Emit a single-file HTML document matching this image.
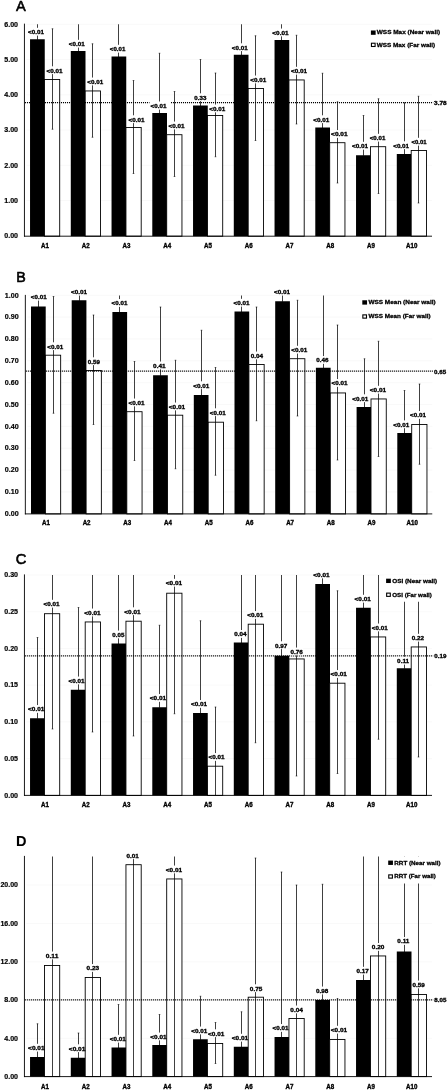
<!DOCTYPE html>
<html><head><meta charset="utf-8"><title>Figure</title>
<style>
html,body{margin:0;padding:0;background:#fff;}
body{width:448px;height:1090px;overflow:hidden;}
svg{display:block;will-change:transform;}
text{font-family:"Liberation Sans",sans-serif;}
</style></head><body>
<svg width="448" height="1090" viewBox="0 0 448 1090">
<rect x="0" y="0" width="448" height="1090" fill="#fff"/>
<g>
<line x1="26.45" y1="24.25" x2="432" y2="24.25" stroke="#f7f7f7" stroke-width="0.7"/>
<line x1="26.45" y1="59.5" x2="432" y2="59.5" stroke="#f7f7f7" stroke-width="0.7"/>
<line x1="26.45" y1="94.75" x2="432" y2="94.75" stroke="#f7f7f7" stroke-width="0.7"/>
<line x1="26.45" y1="130" x2="432" y2="130" stroke="#f7f7f7" stroke-width="0.7"/>
<line x1="26.45" y1="165.25" x2="432" y2="165.25" stroke="#f7f7f7" stroke-width="0.7"/>
<line x1="26.45" y1="200.5" x2="432" y2="200.5" stroke="#f7f7f7" stroke-width="0.7"/>
<rect x="30.04" y="39.25" width="14.71" height="196.95" fill="#000"/>
<rect x="44.45" y="79.45" width="15.25" height="156.75" fill="#fff"/>
<rect x="70.79" y="51" width="14.71" height="185.2" fill="#000"/>
<rect x="85.2" y="90.95" width="15.25" height="145.25" fill="#fff"/>
<rect x="111.54" y="56.5" width="14.71" height="179.7" fill="#000"/>
<rect x="125.95" y="127.45" width="15.25" height="108.75" fill="#fff"/>
<rect x="152.29" y="113" width="14.71" height="123.2" fill="#000"/>
<rect x="166.7" y="134.7" width="15.25" height="101.5" fill="#fff"/>
<rect x="193.04" y="105.5" width="14.71" height="130.7" fill="#000"/>
<rect x="207.45" y="115.45" width="15.25" height="120.75" fill="#fff"/>
<rect x="233.79" y="54.75" width="14.71" height="181.45" fill="#000"/>
<rect x="248.2" y="88.45" width="15.25" height="147.75" fill="#fff"/>
<rect x="274.54" y="40" width="14.71" height="196.2" fill="#000"/>
<rect x="288.95" y="79.95" width="15.25" height="156.25" fill="#fff"/>
<rect x="315.29" y="127.5" width="14.71" height="108.7" fill="#000"/>
<rect x="329.7" y="142.7" width="15.25" height="93.5" fill="#fff"/>
<rect x="356.04" y="155.25" width="14.71" height="80.95" fill="#000"/>
<rect x="370.45" y="146.7" width="15.25" height="89.5" fill="#fff"/>
<rect x="396.79" y="154" width="14.71" height="82.2" fill="#000"/>
<rect x="411.2" y="150.45" width="15.25" height="85.75" fill="#fff"/>
<line x1="37.5" y1="24.25" x2="37.5" y2="39.75" stroke="#000" stroke-width="0.75"/>
<line x1="52.5" y1="28.75" x2="52.5" y2="129.25" stroke="#000" stroke-width="0.75"/>
<line x1="51.7" y1="28.75" x2="53.3" y2="28.75" stroke="#000" stroke-width="0.6"/>
<line x1="51.7" y1="129.25" x2="53.3" y2="129.25" stroke="#000" stroke-width="0.6"/>
<line x1="78.5" y1="24.25" x2="78.5" y2="51.5" stroke="#000" stroke-width="0.75"/>
<line x1="92.5" y1="43.75" x2="92.5" y2="137.25" stroke="#000" stroke-width="0.75"/>
<line x1="91.7" y1="43.75" x2="93.3" y2="43.75" stroke="#000" stroke-width="0.6"/>
<line x1="91.7" y1="137.25" x2="93.3" y2="137.25" stroke="#000" stroke-width="0.6"/>
<line x1="118.5" y1="24.25" x2="118.5" y2="57" stroke="#000" stroke-width="0.75"/>
<line x1="133.5" y1="80.5" x2="133.5" y2="173.5" stroke="#000" stroke-width="0.75"/>
<line x1="132.7" y1="80.5" x2="134.3" y2="80.5" stroke="#000" stroke-width="0.6"/>
<line x1="132.7" y1="173.5" x2="134.3" y2="173.5" stroke="#000" stroke-width="0.6"/>
<line x1="159.5" y1="53.25" x2="159.5" y2="113.5" stroke="#000" stroke-width="0.75"/>
<line x1="158.7" y1="53.25" x2="160.3" y2="53.25" stroke="#000" stroke-width="0.6"/>
<line x1="174.5" y1="91.5" x2="174.5" y2="176.5" stroke="#000" stroke-width="0.75"/>
<line x1="173.7" y1="91.5" x2="175.3" y2="91.5" stroke="#000" stroke-width="0.6"/>
<line x1="173.7" y1="176.5" x2="175.3" y2="176.5" stroke="#000" stroke-width="0.6"/>
<line x1="200.5" y1="59.5" x2="200.5" y2="106" stroke="#000" stroke-width="0.75"/>
<line x1="199.7" y1="59.5" x2="201.3" y2="59.5" stroke="#000" stroke-width="0.6"/>
<line x1="215.5" y1="73" x2="215.5" y2="156.75" stroke="#000" stroke-width="0.75"/>
<line x1="214.7" y1="73" x2="216.3" y2="73" stroke="#000" stroke-width="0.6"/>
<line x1="214.7" y1="156.75" x2="216.3" y2="156.75" stroke="#000" stroke-width="0.6"/>
<line x1="241.5" y1="24.25" x2="241.5" y2="55.25" stroke="#000" stroke-width="0.75"/>
<line x1="255.5" y1="35.75" x2="255.5" y2="140.5" stroke="#000" stroke-width="0.75"/>
<line x1="254.7" y1="35.75" x2="256.3" y2="35.75" stroke="#000" stroke-width="0.6"/>
<line x1="254.7" y1="140.5" x2="256.3" y2="140.5" stroke="#000" stroke-width="0.6"/>
<line x1="281.5" y1="24.25" x2="281.5" y2="40.5" stroke="#000" stroke-width="0.75"/>
<line x1="296.5" y1="35.25" x2="296.5" y2="124" stroke="#000" stroke-width="0.75"/>
<line x1="295.7" y1="35.25" x2="297.3" y2="35.25" stroke="#000" stroke-width="0.6"/>
<line x1="295.7" y1="124" x2="297.3" y2="124" stroke="#000" stroke-width="0.6"/>
<line x1="322.5" y1="73.25" x2="322.5" y2="128" stroke="#000" stroke-width="0.75"/>
<line x1="321.7" y1="73.25" x2="323.3" y2="73.25" stroke="#000" stroke-width="0.6"/>
<line x1="337.5" y1="101.75" x2="337.5" y2="183" stroke="#000" stroke-width="0.75"/>
<line x1="336.7" y1="101.75" x2="338.3" y2="101.75" stroke="#000" stroke-width="0.6"/>
<line x1="336.7" y1="183" x2="338.3" y2="183" stroke="#000" stroke-width="0.6"/>
<line x1="363.5" y1="115.5" x2="363.5" y2="155.75" stroke="#000" stroke-width="0.75"/>
<line x1="362.7" y1="115.5" x2="364.3" y2="115.5" stroke="#000" stroke-width="0.6"/>
<line x1="378.5" y1="98.75" x2="378.5" y2="193.5" stroke="#000" stroke-width="0.75"/>
<line x1="377.7" y1="98.75" x2="379.3" y2="98.75" stroke="#000" stroke-width="0.6"/>
<line x1="377.7" y1="193.5" x2="379.3" y2="193.5" stroke="#000" stroke-width="0.6"/>
<line x1="404.5" y1="102.75" x2="404.5" y2="154.5" stroke="#000" stroke-width="0.75"/>
<line x1="403.7" y1="102.75" x2="405.3" y2="102.75" stroke="#000" stroke-width="0.6"/>
<line x1="418.5" y1="96.25" x2="418.5" y2="203" stroke="#000" stroke-width="0.75"/>
<line x1="417.7" y1="96.25" x2="419.3" y2="96.25" stroke="#000" stroke-width="0.6"/>
<line x1="417.7" y1="203" x2="419.3" y2="203" stroke="#000" stroke-width="0.6"/>
<line x1="24.92" y1="102.57" x2="433.2" y2="102.57" stroke="#000" stroke-width="1.12" stroke-dasharray="1.08 0.92"/>
<rect x="149.5" y="101.6" width="21.2" height="3" fill="#fff"/>
<line x1="24.45" y1="23.65" x2="24.45" y2="236.65" stroke="#000" stroke-width="0.9"/>
<line x1="24" y1="236.2" x2="432" y2="236.2" stroke="#000" stroke-width="0.9"/>
<rect x="27.65" y="27.8" width="16.6" height="7.8" fill="#fff"/>
<rect x="68.4" y="39.8" width="16.6" height="7.8" fill="#fff"/>
<rect x="109.4" y="44.8" width="16.3" height="7.8" fill="#fff"/>
<rect x="150.15" y="101.8" width="16.75" height="7.8" fill="#fff"/>
<rect x="193.9" y="93.3" width="12.85" height="7.8" fill="#fff"/>
<rect x="231.4" y="43.3" width="16.6" height="7.8" fill="#fff"/>
<rect x="271.9" y="28.55" width="17.1" height="7.8" fill="#fff"/>
<rect x="312.9" y="115.3" width="16.85" height="7.8" fill="#fff"/>
<rect x="351.6" y="141.8" width="16.9" height="7.8" fill="#fff"/>
<rect x="392.8" y="141.3" width="16.6" height="7.8" fill="#fff"/>
<rect x="46.15" y="66.3" width="16.85" height="7.8" fill="#fff"/>
<rect x="86.9" y="77.55" width="16.6" height="7.8" fill="#fff"/>
<rect x="128.15" y="115.3" width="16.85" height="7.8" fill="#fff"/>
<rect x="168.15" y="121.55" width="16.85" height="7.8" fill="#fff"/>
<rect x="208.8" y="104.55" width="16.8" height="7.8" fill="#fff"/>
<rect x="249.9" y="75.55" width="16.85" height="7.8" fill="#fff"/>
<rect x="290.65" y="66.8" width="16.85" height="7.8" fill="#fff"/>
<rect x="330.65" y="130.05" width="17.35" height="7.8" fill="#fff"/>
<rect x="369.3" y="133.8" width="16.4" height="7.8" fill="#fff"/>
<rect x="411.15" y="137.8" width="15.85" height="7.8" fill="#fff"/>
<rect x="44.45" y="79.45" width="15.25" height="156.75" fill="none" stroke="#000" stroke-width="0.9"/>
<rect x="85.2" y="90.95" width="15.25" height="145.25" fill="none" stroke="#000" stroke-width="0.9"/>
<rect x="125.95" y="127.45" width="15.25" height="108.75" fill="none" stroke="#000" stroke-width="0.9"/>
<rect x="166.7" y="134.7" width="15.25" height="101.5" fill="none" stroke="#000" stroke-width="0.9"/>
<rect x="207.45" y="115.45" width="15.25" height="120.75" fill="none" stroke="#000" stroke-width="0.9"/>
<rect x="248.2" y="88.45" width="15.25" height="147.75" fill="none" stroke="#000" stroke-width="0.9"/>
<rect x="288.95" y="79.95" width="15.25" height="156.25" fill="none" stroke="#000" stroke-width="0.9"/>
<rect x="329.7" y="142.7" width="15.25" height="93.5" fill="none" stroke="#000" stroke-width="0.9"/>
<rect x="370.45" y="146.7" width="15.25" height="89.5" fill="none" stroke="#000" stroke-width="0.9"/>
<rect x="411.2" y="150.45" width="15.25" height="85.75" fill="none" stroke="#000" stroke-width="0.9"/>
<text x="28.1" y="34.24" font-size="6.25" font-weight="700" fill="#000" stroke="#000" stroke-width="0.35" textLength="15.8" lengthAdjust="spacingAndGlyphs">&lt;0.01</text>
<text x="68.85" y="46.24" font-size="6.25" font-weight="700" fill="#000" stroke="#000" stroke-width="0.35" textLength="15.8" lengthAdjust="spacingAndGlyphs">&lt;0.01</text>
<text x="109.85" y="51.24" font-size="6.25" font-weight="700" fill="#000" stroke="#000" stroke-width="0.35" textLength="15.5" lengthAdjust="spacingAndGlyphs">&lt;0.01</text>
<text x="150.6" y="108.24" font-size="6.25" font-weight="700" fill="#000" stroke="#000" stroke-width="0.35" textLength="15.95" lengthAdjust="spacingAndGlyphs">&lt;0.01</text>
<text x="194.35" y="99.74" font-size="6.25" font-weight="700" fill="#000" stroke="#000" stroke-width="0.35" textLength="12.05" lengthAdjust="spacingAndGlyphs">0.33</text>
<text x="231.85" y="49.74" font-size="6.25" font-weight="700" fill="#000" stroke="#000" stroke-width="0.35" textLength="15.8" lengthAdjust="spacingAndGlyphs">&lt;0.01</text>
<text x="272.35" y="34.99" font-size="6.25" font-weight="700" fill="#000" stroke="#000" stroke-width="0.35" textLength="16.3" lengthAdjust="spacingAndGlyphs">&lt;0.01</text>
<text x="313.35" y="121.74" font-size="6.25" font-weight="700" fill="#000" stroke="#000" stroke-width="0.35" textLength="16.05" lengthAdjust="spacingAndGlyphs">&lt;0.01</text>
<text x="352.05" y="148.24" font-size="6.25" font-weight="700" fill="#000" stroke="#000" stroke-width="0.35" textLength="16.1" lengthAdjust="spacingAndGlyphs">&lt;0.01</text>
<text x="393.25" y="147.74" font-size="6.25" font-weight="700" fill="#000" stroke="#000" stroke-width="0.35" textLength="15.8" lengthAdjust="spacingAndGlyphs">&lt;0.01</text>
<text x="46.6" y="72.74" font-size="6.25" font-weight="700" fill="#000" stroke="#000" stroke-width="0.35" textLength="16.05" lengthAdjust="spacingAndGlyphs">&lt;0.01</text>
<text x="87.35" y="83.99" font-size="6.25" font-weight="700" fill="#000" stroke="#000" stroke-width="0.35" textLength="15.8" lengthAdjust="spacingAndGlyphs">&lt;0.01</text>
<text x="128.6" y="121.74" font-size="6.25" font-weight="700" fill="#000" stroke="#000" stroke-width="0.35" textLength="16.05" lengthAdjust="spacingAndGlyphs">&lt;0.01</text>
<text x="168.6" y="127.99" font-size="6.25" font-weight="700" fill="#000" stroke="#000" stroke-width="0.35" textLength="16.05" lengthAdjust="spacingAndGlyphs">&lt;0.01</text>
<text x="209.25" y="110.99" font-size="6.25" font-weight="700" fill="#000" stroke="#000" stroke-width="0.35" textLength="16" lengthAdjust="spacingAndGlyphs">&lt;0.01</text>
<text x="250.35" y="81.99" font-size="6.25" font-weight="700" fill="#000" stroke="#000" stroke-width="0.35" textLength="16.05" lengthAdjust="spacingAndGlyphs">&lt;0.01</text>
<text x="291.1" y="73.24" font-size="6.25" font-weight="700" fill="#000" stroke="#000" stroke-width="0.35" textLength="16.05" lengthAdjust="spacingAndGlyphs">&lt;0.01</text>
<text x="331.1" y="136.49" font-size="6.25" font-weight="700" fill="#000" stroke="#000" stroke-width="0.35" textLength="16.55" lengthAdjust="spacingAndGlyphs">&lt;0.01</text>
<text x="369.75" y="140.24" font-size="6.25" font-weight="700" fill="#000" stroke="#000" stroke-width="0.35" textLength="15.6" lengthAdjust="spacingAndGlyphs">&lt;0.01</text>
<text x="411.6" y="144.24" font-size="6.25" font-weight="700" fill="#000" stroke="#000" stroke-width="0.35" textLength="15.05" lengthAdjust="spacingAndGlyphs">&lt;0.01</text>
<text x="434.1" y="104.99" font-size="6.25" font-weight="700" fill="#000" stroke="#000" stroke-width="0.35" textLength="12.55" lengthAdjust="spacingAndGlyphs">3.78</text>
<text x="4.25" y="26.54" font-size="6.4" font-weight="700" fill="#000" stroke="#000" stroke-width="0.16" textLength="13.8" lengthAdjust="spacingAndGlyphs">6.00</text>
<text x="4.25" y="61.79" font-size="6.4" font-weight="700" fill="#000" stroke="#000" stroke-width="0.16" textLength="13.8" lengthAdjust="spacingAndGlyphs">5.00</text>
<text x="4.25" y="97.04" font-size="6.4" font-weight="700" fill="#000" stroke="#000" stroke-width="0.16" textLength="13.8" lengthAdjust="spacingAndGlyphs">4.00</text>
<text x="4.25" y="132.29" font-size="6.4" font-weight="700" fill="#000" stroke="#000" stroke-width="0.16" textLength="13.8" lengthAdjust="spacingAndGlyphs">3.00</text>
<text x="4.25" y="167.54" font-size="6.4" font-weight="700" fill="#000" stroke="#000" stroke-width="0.16" textLength="13.8" lengthAdjust="spacingAndGlyphs">2.00</text>
<text x="4.25" y="202.79" font-size="6.4" font-weight="700" fill="#000" stroke="#000" stroke-width="0.16" textLength="13.8" lengthAdjust="spacingAndGlyphs">1.00</text>
<text x="4.25" y="238.04" font-size="6.4" font-weight="700" fill="#000" stroke="#000" stroke-width="0.16" textLength="13.8" lengthAdjust="spacingAndGlyphs">0.00</text>
<text x="40.99" y="247.93" font-size="6.5" font-weight="700" fill="#000" stroke="#000" stroke-width="0.35" textLength="7.9" lengthAdjust="spacingAndGlyphs">A1</text>
<text x="81.74" y="247.93" font-size="6.5" font-weight="700" fill="#000" stroke="#000" stroke-width="0.35" textLength="7.9" lengthAdjust="spacingAndGlyphs">A2</text>
<text x="122.49" y="247.93" font-size="6.5" font-weight="700" fill="#000" stroke="#000" stroke-width="0.35" textLength="7.9" lengthAdjust="spacingAndGlyphs">A3</text>
<text x="163.24" y="247.93" font-size="6.5" font-weight="700" fill="#000" stroke="#000" stroke-width="0.35" textLength="7.9" lengthAdjust="spacingAndGlyphs">A4</text>
<text x="203.99" y="247.93" font-size="6.5" font-weight="700" fill="#000" stroke="#000" stroke-width="0.35" textLength="7.9" lengthAdjust="spacingAndGlyphs">A5</text>
<text x="244.74" y="247.93" font-size="6.5" font-weight="700" fill="#000" stroke="#000" stroke-width="0.35" textLength="7.9" lengthAdjust="spacingAndGlyphs">A6</text>
<text x="285.49" y="247.93" font-size="6.5" font-weight="700" fill="#000" stroke="#000" stroke-width="0.35" textLength="7.9" lengthAdjust="spacingAndGlyphs">A7</text>
<text x="326.24" y="247.93" font-size="6.5" font-weight="700" fill="#000" stroke="#000" stroke-width="0.35" textLength="7.9" lengthAdjust="spacingAndGlyphs">A8</text>
<text x="366.99" y="247.93" font-size="6.5" font-weight="700" fill="#000" stroke="#000" stroke-width="0.35" textLength="7.9" lengthAdjust="spacingAndGlyphs">A9</text>
<text x="406.04" y="247.93" font-size="6.5" font-weight="700" fill="#000" stroke="#000" stroke-width="0.35" textLength="11.3" lengthAdjust="spacingAndGlyphs">A10</text>
<rect x="368.9" y="26.4" width="73.1" height="25.45" fill="#fff"/>
<rect x="370.9" y="30.47" width="4.75" height="4.35" fill="#000"/>
<rect x="371.45" y="43.23" width="3.65" height="3.25" fill="#fff" stroke="#000" stroke-width="1.1"/>
<text x="376.75" y="34.48" font-size="5.8" font-weight="700" fill="#000" stroke="#000" stroke-width="0.28" textLength="63.4" lengthAdjust="spacingAndGlyphs">WSS Max (Near wall)</text>
<text x="376.75" y="46.68" font-size="5.8" font-weight="700" fill="#000" stroke="#000" stroke-width="0.28" textLength="58.4" lengthAdjust="spacingAndGlyphs">WSS Max (Far wall)</text>
<text x="20.95" y="11.4" font-size="14.66" font-weight="400" fill="#000" stroke="#000" stroke-width="0.6" stroke-linejoin="round" text-anchor="middle">A</text>
</g>
<g>
<line x1="27.35" y1="295.25" x2="432.25" y2="295.25" stroke="#f7f7f7" stroke-width="0.7"/>
<line x1="27.35" y1="317.1" x2="432.25" y2="317.1" stroke="#f7f7f7" stroke-width="0.7"/>
<line x1="27.35" y1="338.95" x2="432.25" y2="338.95" stroke="#f7f7f7" stroke-width="0.7"/>
<line x1="27.35" y1="360.8" x2="432.25" y2="360.8" stroke="#f7f7f7" stroke-width="0.7"/>
<line x1="27.35" y1="382.65" x2="432.25" y2="382.65" stroke="#f7f7f7" stroke-width="0.7"/>
<line x1="27.35" y1="404.5" x2="432.25" y2="404.5" stroke="#f7f7f7" stroke-width="0.7"/>
<line x1="27.35" y1="426.35" x2="432.25" y2="426.35" stroke="#f7f7f7" stroke-width="0.7"/>
<line x1="27.35" y1="448.2" x2="432.25" y2="448.2" stroke="#f7f7f7" stroke-width="0.7"/>
<line x1="27.35" y1="470.05" x2="432.25" y2="470.05" stroke="#f7f7f7" stroke-width="0.7"/>
<line x1="27.35" y1="491.9" x2="432.25" y2="491.9" stroke="#f7f7f7" stroke-width="0.7"/>
<rect x="31" y="306.5" width="14.71" height="207.4" fill="#000"/>
<rect x="45.41" y="355.2" width="15.25" height="158.7" fill="#fff"/>
<rect x="71.7" y="300.25" width="14.71" height="213.65" fill="#000"/>
<rect x="86.11" y="370.45" width="15.25" height="143.45" fill="#fff"/>
<rect x="112.4" y="312" width="14.71" height="201.9" fill="#000"/>
<rect x="126.81" y="411.7" width="15.25" height="102.2" fill="#fff"/>
<rect x="153.1" y="375.25" width="14.71" height="138.65" fill="#000"/>
<rect x="167.51" y="415.2" width="15.25" height="98.7" fill="#fff"/>
<rect x="193.8" y="395" width="14.71" height="118.9" fill="#000"/>
<rect x="208.21" y="422.2" width="15.25" height="91.7" fill="#fff"/>
<rect x="234.5" y="311.5" width="14.71" height="202.4" fill="#000"/>
<rect x="248.91" y="364.45" width="15.25" height="149.45" fill="#fff"/>
<rect x="275.2" y="301.25" width="14.71" height="212.65" fill="#000"/>
<rect x="289.61" y="358.7" width="15.25" height="155.2" fill="#fff"/>
<rect x="315.9" y="367.75" width="14.71" height="146.15" fill="#000"/>
<rect x="330.31" y="392.95" width="15.25" height="120.95" fill="#fff"/>
<rect x="356.6" y="407" width="14.71" height="106.9" fill="#000"/>
<rect x="371.01" y="398.95" width="15.25" height="114.95" fill="#fff"/>
<rect x="397.3" y="433" width="14.71" height="80.9" fill="#000"/>
<rect x="411.71" y="424.45" width="15.25" height="89.45" fill="#fff"/>
<line x1="38.5" y1="295.5" x2="38.5" y2="307" stroke="#000" stroke-width="0.75"/>
<line x1="53.5" y1="296.5" x2="53.5" y2="413.25" stroke="#000" stroke-width="0.75"/>
<line x1="52.7" y1="296.5" x2="54.3" y2="296.5" stroke="#000" stroke-width="0.6"/>
<line x1="52.7" y1="413.25" x2="54.3" y2="413.25" stroke="#000" stroke-width="0.6"/>
<line x1="79.5" y1="295.5" x2="79.5" y2="300.75" stroke="#000" stroke-width="0.75"/>
<line x1="93.5" y1="315" x2="93.5" y2="424.5" stroke="#000" stroke-width="0.75"/>
<line x1="92.7" y1="315" x2="94.3" y2="315" stroke="#000" stroke-width="0.6"/>
<line x1="92.7" y1="424.5" x2="94.3" y2="424.5" stroke="#000" stroke-width="0.6"/>
<line x1="119.5" y1="295.5" x2="119.5" y2="312.5" stroke="#000" stroke-width="0.75"/>
<line x1="134.5" y1="361.5" x2="134.5" y2="460.5" stroke="#000" stroke-width="0.75"/>
<line x1="133.7" y1="361.5" x2="135.3" y2="361.5" stroke="#000" stroke-width="0.6"/>
<line x1="133.7" y1="460.5" x2="135.3" y2="460.5" stroke="#000" stroke-width="0.6"/>
<line x1="160.5" y1="307" x2="160.5" y2="375.75" stroke="#000" stroke-width="0.75"/>
<line x1="159.7" y1="307" x2="161.3" y2="307" stroke="#000" stroke-width="0.6"/>
<line x1="175.5" y1="360.25" x2="175.5" y2="468.75" stroke="#000" stroke-width="0.75"/>
<line x1="174.7" y1="360.25" x2="176.3" y2="360.25" stroke="#000" stroke-width="0.6"/>
<line x1="174.7" y1="468.75" x2="176.3" y2="468.75" stroke="#000" stroke-width="0.6"/>
<line x1="201.5" y1="330.25" x2="201.5" y2="395.5" stroke="#000" stroke-width="0.75"/>
<line x1="200.7" y1="330.25" x2="202.3" y2="330.25" stroke="#000" stroke-width="0.6"/>
<line x1="215.5" y1="367.5" x2="215.5" y2="475.25" stroke="#000" stroke-width="0.75"/>
<line x1="214.7" y1="367.5" x2="216.3" y2="367.5" stroke="#000" stroke-width="0.6"/>
<line x1="214.7" y1="475.25" x2="216.3" y2="475.25" stroke="#000" stroke-width="0.6"/>
<line x1="241.5" y1="295.5" x2="241.5" y2="312" stroke="#000" stroke-width="0.75"/>
<line x1="256.5" y1="307" x2="256.5" y2="420.75" stroke="#000" stroke-width="0.75"/>
<line x1="255.7" y1="307" x2="257.3" y2="307" stroke="#000" stroke-width="0.6"/>
<line x1="255.7" y1="420.75" x2="257.3" y2="420.75" stroke="#000" stroke-width="0.6"/>
<line x1="282.5" y1="295.5" x2="282.5" y2="301.75" stroke="#000" stroke-width="0.75"/>
<line x1="297.5" y1="300.25" x2="297.5" y2="416" stroke="#000" stroke-width="0.75"/>
<line x1="296.7" y1="300.25" x2="298.3" y2="300.25" stroke="#000" stroke-width="0.6"/>
<line x1="296.7" y1="416" x2="298.3" y2="416" stroke="#000" stroke-width="0.6"/>
<line x1="323.5" y1="295.5" x2="323.5" y2="368.25" stroke="#000" stroke-width="0.75"/>
<line x1="337.5" y1="325" x2="337.5" y2="460" stroke="#000" stroke-width="0.75"/>
<line x1="336.7" y1="325" x2="338.3" y2="325" stroke="#000" stroke-width="0.6"/>
<line x1="336.7" y1="460" x2="338.3" y2="460" stroke="#000" stroke-width="0.6"/>
<line x1="364.5" y1="358.75" x2="364.5" y2="407.5" stroke="#000" stroke-width="0.75"/>
<line x1="363.7" y1="358.75" x2="365.3" y2="358.75" stroke="#000" stroke-width="0.6"/>
<line x1="378.5" y1="341.25" x2="378.5" y2="456.5" stroke="#000" stroke-width="0.75"/>
<line x1="377.7" y1="341.25" x2="379.3" y2="341.25" stroke="#000" stroke-width="0.6"/>
<line x1="377.7" y1="456.5" x2="379.3" y2="456.5" stroke="#000" stroke-width="0.6"/>
<line x1="404.5" y1="390.5" x2="404.5" y2="433.5" stroke="#000" stroke-width="0.75"/>
<line x1="403.7" y1="390.5" x2="405.3" y2="390.5" stroke="#000" stroke-width="0.6"/>
<line x1="419.5" y1="384" x2="419.5" y2="464.25" stroke="#000" stroke-width="0.75"/>
<line x1="418.7" y1="384" x2="420.3" y2="384" stroke="#000" stroke-width="0.6"/>
<line x1="418.7" y1="464.25" x2="420.3" y2="464.25" stroke="#000" stroke-width="0.6"/>
<line x1="25.81" y1="371.1" x2="433.45" y2="371.1" stroke="#000" stroke-width="1.12" stroke-dasharray="1.08 0.92"/>
<line x1="25.35" y1="294.9" x2="25.35" y2="514.35" stroke="#000" stroke-width="0.9"/>
<line x1="24.9" y1="513.9" x2="432.25" y2="513.9" stroke="#000" stroke-width="0.9"/>
<rect x="30.4" y="292.8" width="16.6" height="7.8" fill="#fff"/>
<rect x="70.65" y="287.3" width="16.85" height="7.8" fill="#fff"/>
<rect x="111.15" y="299.05" width="16.6" height="7.8" fill="#fff"/>
<rect x="152.65" y="361.55" width="13.35" height="7.8" fill="#fff"/>
<rect x="192.9" y="381.3" width="16.85" height="7.8" fill="#fff"/>
<rect x="233.15" y="298.8" width="16.85" height="7.8" fill="#fff"/>
<rect x="273.65" y="287.3" width="16.85" height="7.8" fill="#fff"/>
<rect x="315.9" y="356.05" width="13.1" height="7.8" fill="#fff"/>
<rect x="351.9" y="394.3" width="16.85" height="7.8" fill="#fff"/>
<rect x="392.8" y="420.4" width="16.8" height="7.8" fill="#fff"/>
<rect x="46.9" y="342.3" width="16.6" height="7.8" fill="#fff"/>
<rect x="87.4" y="357.3" width="12.85" height="7.8" fill="#fff"/>
<rect x="128.15" y="398.55" width="16.85" height="7.8" fill="#fff"/>
<rect x="168.4" y="402.55" width="17.1" height="7.8" fill="#fff"/>
<rect x="209.4" y="408.3" width="16.6" height="7.8" fill="#fff"/>
<rect x="250.4" y="351.55" width="13.1" height="7.8" fill="#fff"/>
<rect x="290.9" y="345.8" width="16.85" height="7.8" fill="#fff"/>
<rect x="331.15" y="379.05" width="16.85" height="7.8" fill="#fff"/>
<rect x="369.4" y="385.8" width="17.1" height="7.8" fill="#fff"/>
<rect x="409.65" y="411.05" width="16.6" height="7.8" fill="#fff"/>
<rect x="45.41" y="355.2" width="15.25" height="158.7" fill="none" stroke="#000" stroke-width="0.9"/>
<rect x="86.11" y="370.45" width="15.25" height="143.45" fill="none" stroke="#000" stroke-width="0.9"/>
<rect x="126.81" y="411.7" width="15.25" height="102.2" fill="none" stroke="#000" stroke-width="0.9"/>
<rect x="167.51" y="415.2" width="15.25" height="98.7" fill="none" stroke="#000" stroke-width="0.9"/>
<rect x="208.21" y="422.2" width="15.25" height="91.7" fill="none" stroke="#000" stroke-width="0.9"/>
<rect x="248.91" y="364.45" width="15.25" height="149.45" fill="none" stroke="#000" stroke-width="0.9"/>
<rect x="289.61" y="358.7" width="15.25" height="155.2" fill="none" stroke="#000" stroke-width="0.9"/>
<rect x="330.31" y="392.95" width="15.25" height="120.95" fill="none" stroke="#000" stroke-width="0.9"/>
<rect x="371.01" y="398.95" width="15.25" height="114.95" fill="none" stroke="#000" stroke-width="0.9"/>
<rect x="411.71" y="424.45" width="15.25" height="89.45" fill="none" stroke="#000" stroke-width="0.9"/>
<text x="30.85" y="299.24" font-size="6.25" font-weight="700" fill="#000" stroke="#000" stroke-width="0.35" textLength="15.8" lengthAdjust="spacingAndGlyphs">&lt;0.01</text>
<text x="71.1" y="293.74" font-size="6.25" font-weight="700" fill="#000" stroke="#000" stroke-width="0.35" textLength="16.05" lengthAdjust="spacingAndGlyphs">&lt;0.01</text>
<text x="111.6" y="305.49" font-size="6.25" font-weight="700" fill="#000" stroke="#000" stroke-width="0.35" textLength="15.8" lengthAdjust="spacingAndGlyphs">&lt;0.01</text>
<text x="153.1" y="367.99" font-size="6.25" font-weight="700" fill="#000" stroke="#000" stroke-width="0.35" textLength="12.55" lengthAdjust="spacingAndGlyphs">0.41</text>
<text x="193.35" y="387.74" font-size="6.25" font-weight="700" fill="#000" stroke="#000" stroke-width="0.35" textLength="16.05" lengthAdjust="spacingAndGlyphs">&lt;0.01</text>
<text x="233.6" y="305.24" font-size="6.25" font-weight="700" fill="#000" stroke="#000" stroke-width="0.35" textLength="16.05" lengthAdjust="spacingAndGlyphs">&lt;0.01</text>
<text x="274.1" y="293.74" font-size="6.25" font-weight="700" fill="#000" stroke="#000" stroke-width="0.35" textLength="16.05" lengthAdjust="spacingAndGlyphs">&lt;0.01</text>
<text x="316.35" y="362.49" font-size="6.25" font-weight="700" fill="#000" stroke="#000" stroke-width="0.35" textLength="12.3" lengthAdjust="spacingAndGlyphs">0.46</text>
<text x="352.35" y="400.74" font-size="6.25" font-weight="700" fill="#000" stroke="#000" stroke-width="0.35" textLength="16.05" lengthAdjust="spacingAndGlyphs">&lt;0.01</text>
<text x="393.25" y="426.84" font-size="6.25" font-weight="700" fill="#000" stroke="#000" stroke-width="0.35" textLength="16" lengthAdjust="spacingAndGlyphs">&lt;0.01</text>
<text x="47.35" y="348.74" font-size="6.25" font-weight="700" fill="#000" stroke="#000" stroke-width="0.35" textLength="15.8" lengthAdjust="spacingAndGlyphs">&lt;0.01</text>
<text x="87.85" y="363.74" font-size="6.25" font-weight="700" fill="#000" stroke="#000" stroke-width="0.35" textLength="12.05" lengthAdjust="spacingAndGlyphs">0.59</text>
<text x="128.6" y="404.99" font-size="6.25" font-weight="700" fill="#000" stroke="#000" stroke-width="0.35" textLength="16.05" lengthAdjust="spacingAndGlyphs">&lt;0.01</text>
<text x="168.85" y="408.99" font-size="6.25" font-weight="700" fill="#000" stroke="#000" stroke-width="0.35" textLength="16.3" lengthAdjust="spacingAndGlyphs">&lt;0.01</text>
<text x="209.85" y="414.74" font-size="6.25" font-weight="700" fill="#000" stroke="#000" stroke-width="0.35" textLength="15.8" lengthAdjust="spacingAndGlyphs">&lt;0.01</text>
<text x="250.85" y="357.99" font-size="6.25" font-weight="700" fill="#000" stroke="#000" stroke-width="0.35" textLength="12.3" lengthAdjust="spacingAndGlyphs">0.04</text>
<text x="291.35" y="352.24" font-size="6.25" font-weight="700" fill="#000" stroke="#000" stroke-width="0.35" textLength="16.05" lengthAdjust="spacingAndGlyphs">&lt;0.01</text>
<text x="331.6" y="385.49" font-size="6.25" font-weight="700" fill="#000" stroke="#000" stroke-width="0.35" textLength="16.05" lengthAdjust="spacingAndGlyphs">&lt;0.01</text>
<text x="369.85" y="392.24" font-size="6.25" font-weight="700" fill="#000" stroke="#000" stroke-width="0.35" textLength="16.3" lengthAdjust="spacingAndGlyphs">&lt;0.01</text>
<text x="410.1" y="417.49" font-size="6.25" font-weight="700" fill="#000" stroke="#000" stroke-width="0.35" textLength="15.8" lengthAdjust="spacingAndGlyphs">&lt;0.01</text>
<text x="434.1" y="373.74" font-size="6.25" font-weight="700" fill="#000" stroke="#000" stroke-width="0.35" textLength="12.05" lengthAdjust="spacingAndGlyphs">0.65</text>
<text x="4.75" y="297.54" font-size="6.4" font-weight="700" fill="#000" stroke="#000" stroke-width="0.16" textLength="13.9" lengthAdjust="spacingAndGlyphs">1.00</text>
<text x="4.75" y="319.39" font-size="6.4" font-weight="700" fill="#000" stroke="#000" stroke-width="0.16" textLength="13.9" lengthAdjust="spacingAndGlyphs">0.90</text>
<text x="4.75" y="341.24" font-size="6.4" font-weight="700" fill="#000" stroke="#000" stroke-width="0.16" textLength="13.9" lengthAdjust="spacingAndGlyphs">0.80</text>
<text x="4.75" y="363.09" font-size="6.4" font-weight="700" fill="#000" stroke="#000" stroke-width="0.16" textLength="13.9" lengthAdjust="spacingAndGlyphs">0.70</text>
<text x="4.75" y="384.94" font-size="6.4" font-weight="700" fill="#000" stroke="#000" stroke-width="0.16" textLength="13.9" lengthAdjust="spacingAndGlyphs">0.60</text>
<text x="4.75" y="406.79" font-size="6.4" font-weight="700" fill="#000" stroke="#000" stroke-width="0.16" textLength="13.9" lengthAdjust="spacingAndGlyphs">0.50</text>
<text x="4.75" y="428.64" font-size="6.4" font-weight="700" fill="#000" stroke="#000" stroke-width="0.16" textLength="13.9" lengthAdjust="spacingAndGlyphs">0.40</text>
<text x="4.75" y="450.49" font-size="6.4" font-weight="700" fill="#000" stroke="#000" stroke-width="0.16" textLength="13.9" lengthAdjust="spacingAndGlyphs">0.30</text>
<text x="4.75" y="472.34" font-size="6.4" font-weight="700" fill="#000" stroke="#000" stroke-width="0.16" textLength="13.9" lengthAdjust="spacingAndGlyphs">0.20</text>
<text x="4.75" y="494.19" font-size="6.4" font-weight="700" fill="#000" stroke="#000" stroke-width="0.16" textLength="13.9" lengthAdjust="spacingAndGlyphs">0.10</text>
<text x="4.75" y="516.04" font-size="6.4" font-weight="700" fill="#000" stroke="#000" stroke-width="0.16" textLength="13.9" lengthAdjust="spacingAndGlyphs">0.00</text>
<text x="41.95" y="525.33" font-size="6.5" font-weight="700" fill="#000" stroke="#000" stroke-width="0.35" textLength="7.9" lengthAdjust="spacingAndGlyphs">A1</text>
<text x="82.65" y="525.33" font-size="6.5" font-weight="700" fill="#000" stroke="#000" stroke-width="0.35" textLength="7.9" lengthAdjust="spacingAndGlyphs">A2</text>
<text x="123.35" y="525.33" font-size="6.5" font-weight="700" fill="#000" stroke="#000" stroke-width="0.35" textLength="7.9" lengthAdjust="spacingAndGlyphs">A3</text>
<text x="164.05" y="525.33" font-size="6.5" font-weight="700" fill="#000" stroke="#000" stroke-width="0.35" textLength="7.9" lengthAdjust="spacingAndGlyphs">A4</text>
<text x="204.75" y="525.33" font-size="6.5" font-weight="700" fill="#000" stroke="#000" stroke-width="0.35" textLength="7.9" lengthAdjust="spacingAndGlyphs">A5</text>
<text x="245.45" y="525.33" font-size="6.5" font-weight="700" fill="#000" stroke="#000" stroke-width="0.35" textLength="7.9" lengthAdjust="spacingAndGlyphs">A6</text>
<text x="286.15" y="525.33" font-size="6.5" font-weight="700" fill="#000" stroke="#000" stroke-width="0.35" textLength="7.9" lengthAdjust="spacingAndGlyphs">A7</text>
<text x="326.85" y="525.33" font-size="6.5" font-weight="700" fill="#000" stroke="#000" stroke-width="0.35" textLength="7.9" lengthAdjust="spacingAndGlyphs">A8</text>
<text x="367.55" y="525.33" font-size="6.5" font-weight="700" fill="#000" stroke="#000" stroke-width="0.35" textLength="7.9" lengthAdjust="spacingAndGlyphs">A9</text>
<text x="406.55" y="525.33" font-size="6.5" font-weight="700" fill="#000" stroke="#000" stroke-width="0.35" textLength="11.3" lengthAdjust="spacingAndGlyphs">A10</text>
<rect x="360.3" y="296.2" width="77.2" height="27.3" fill="#fff"/>
<rect x="362.3" y="300.27" width="4.75" height="4.35" fill="#000"/>
<rect x="362.85" y="314.88" width="3.65" height="3.25" fill="#fff" stroke="#000" stroke-width="1.1"/>
<text x="368.45" y="304.28" font-size="5.8" font-weight="700" fill="#000" stroke="#000" stroke-width="0.28" textLength="67.2" lengthAdjust="spacingAndGlyphs">WSS Mean (Near wall)</text>
<text x="368.45" y="318.33" font-size="5.8" font-weight="700" fill="#000" stroke="#000" stroke-width="0.28" textLength="62.2" lengthAdjust="spacingAndGlyphs">WSS Mean (Far wall)</text>
<text x="20.95" y="281.5" font-size="14.25" font-weight="400" fill="#000" stroke="#000" stroke-width="0.6" stroke-linejoin="round" text-anchor="middle">B</text>
</g>
<g>
<line x1="26.45" y1="575" x2="432" y2="575" stroke="#f7f7f7" stroke-width="0.7"/>
<line x1="26.45" y1="611.71" x2="432" y2="611.71" stroke="#f7f7f7" stroke-width="0.7"/>
<line x1="26.45" y1="648.42" x2="432" y2="648.42" stroke="#f7f7f7" stroke-width="0.7"/>
<line x1="26.45" y1="685.13" x2="432" y2="685.13" stroke="#f7f7f7" stroke-width="0.7"/>
<line x1="26.45" y1="721.84" x2="432" y2="721.84" stroke="#f7f7f7" stroke-width="0.7"/>
<line x1="26.45" y1="758.55" x2="432" y2="758.55" stroke="#f7f7f7" stroke-width="0.7"/>
<rect x="30.04" y="718.25" width="14.71" height="77.15" fill="#000"/>
<rect x="44.45" y="613.7" width="15.25" height="181.7" fill="#fff"/>
<rect x="70.79" y="689.75" width="14.71" height="105.65" fill="#000"/>
<rect x="85.2" y="621.95" width="15.25" height="173.45" fill="#fff"/>
<rect x="111.54" y="643.5" width="14.71" height="151.9" fill="#000"/>
<rect x="125.95" y="621.2" width="15.25" height="174.2" fill="#fff"/>
<rect x="152.29" y="707.25" width="14.71" height="88.15" fill="#000"/>
<rect x="166.7" y="593.2" width="15.25" height="202.2" fill="#fff"/>
<rect x="193.04" y="713" width="14.71" height="82.4" fill="#000"/>
<rect x="207.45" y="766.2" width="15.25" height="29.2" fill="#fff"/>
<rect x="233.79" y="642.5" width="14.71" height="152.9" fill="#000"/>
<rect x="248.2" y="624.2" width="15.25" height="171.2" fill="#fff"/>
<rect x="274.54" y="655.75" width="14.71" height="139.65" fill="#000"/>
<rect x="288.95" y="658.95" width="15.25" height="136.45" fill="#fff"/>
<rect x="315.29" y="584" width="14.71" height="211.4" fill="#000"/>
<rect x="329.7" y="683.2" width="15.25" height="112.2" fill="#fff"/>
<rect x="356.04" y="607.75" width="14.71" height="187.65" fill="#000"/>
<rect x="370.45" y="636.95" width="15.25" height="158.45" fill="#fff"/>
<rect x="396.79" y="668.25" width="14.71" height="127.15" fill="#000"/>
<rect x="411.2" y="646.95" width="15.25" height="148.45" fill="#fff"/>
<line x1="37.5" y1="637.5" x2="37.5" y2="718.75" stroke="#000" stroke-width="0.75"/>
<line x1="36.7" y1="637.5" x2="38.3" y2="637.5" stroke="#000" stroke-width="0.6"/>
<line x1="52.5" y1="575" x2="52.5" y2="729" stroke="#000" stroke-width="0.75"/>
<line x1="51.7" y1="729" x2="53.3" y2="729" stroke="#000" stroke-width="0.6"/>
<line x1="78.5" y1="607.5" x2="78.5" y2="690.25" stroke="#000" stroke-width="0.75"/>
<line x1="77.7" y1="607.5" x2="79.3" y2="607.5" stroke="#000" stroke-width="0.6"/>
<line x1="92.5" y1="575" x2="92.5" y2="732" stroke="#000" stroke-width="0.75"/>
<line x1="91.7" y1="732" x2="93.3" y2="732" stroke="#000" stroke-width="0.6"/>
<line x1="118.5" y1="575" x2="118.5" y2="644" stroke="#000" stroke-width="0.75"/>
<line x1="133.5" y1="575" x2="133.5" y2="736" stroke="#000" stroke-width="0.75"/>
<line x1="132.7" y1="736" x2="134.3" y2="736" stroke="#000" stroke-width="0.6"/>
<line x1="159.5" y1="625.25" x2="159.5" y2="707.75" stroke="#000" stroke-width="0.75"/>
<line x1="158.7" y1="625.25" x2="160.3" y2="625.25" stroke="#000" stroke-width="0.6"/>
<line x1="174.5" y1="575" x2="174.5" y2="713.75" stroke="#000" stroke-width="0.75"/>
<line x1="173.7" y1="713.75" x2="175.3" y2="713.75" stroke="#000" stroke-width="0.6"/>
<line x1="200.5" y1="620.75" x2="200.5" y2="713.5" stroke="#000" stroke-width="0.75"/>
<line x1="199.7" y1="620.75" x2="201.3" y2="620.75" stroke="#000" stroke-width="0.6"/>
<line x1="215.5" y1="707" x2="215.5" y2="795.25" stroke="#000" stroke-width="0.75"/>
<line x1="214.7" y1="707" x2="216.3" y2="707" stroke="#000" stroke-width="0.6"/>
<line x1="241.5" y1="575" x2="241.5" y2="643" stroke="#000" stroke-width="0.75"/>
<line x1="255.5" y1="575" x2="255.5" y2="742.75" stroke="#000" stroke-width="0.75"/>
<line x1="254.7" y1="742.75" x2="256.3" y2="742.75" stroke="#000" stroke-width="0.6"/>
<line x1="281.5" y1="575" x2="281.5" y2="656.25" stroke="#000" stroke-width="0.75"/>
<line x1="296.5" y1="575" x2="296.5" y2="776" stroke="#000" stroke-width="0.75"/>
<line x1="295.7" y1="776" x2="297.3" y2="776" stroke="#000" stroke-width="0.6"/>
<line x1="322.5" y1="575" x2="322.5" y2="584.5" stroke="#000" stroke-width="0.75"/>
<line x1="337.5" y1="590.75" x2="337.5" y2="773.5" stroke="#000" stroke-width="0.75"/>
<line x1="336.7" y1="590.75" x2="338.3" y2="590.75" stroke="#000" stroke-width="0.6"/>
<line x1="336.7" y1="773.5" x2="338.3" y2="773.5" stroke="#000" stroke-width="0.6"/>
<line x1="363.5" y1="575" x2="363.5" y2="608.25" stroke="#000" stroke-width="0.75"/>
<line x1="378.5" y1="575" x2="378.5" y2="739.25" stroke="#000" stroke-width="0.75"/>
<line x1="377.7" y1="739.25" x2="379.3" y2="739.25" stroke="#000" stroke-width="0.6"/>
<line x1="404.5" y1="575" x2="404.5" y2="668.75" stroke="#000" stroke-width="0.75"/>
<line x1="418.5" y1="575" x2="418.5" y2="757" stroke="#000" stroke-width="0.75"/>
<line x1="417.7" y1="757" x2="419.3" y2="757" stroke="#000" stroke-width="0.6"/>
<line x1="24.81" y1="655.85" x2="433.2" y2="655.85" stroke="#000" stroke-width="1.12" stroke-dasharray="1.08 0.92"/>
<line x1="24.45" y1="574.4" x2="24.45" y2="795.85" stroke="#000" stroke-width="0.9"/>
<line x1="24" y1="795.4" x2="432" y2="795.4" stroke="#000" stroke-width="0.9"/>
<rect x="27.65" y="705.05" width="17.1" height="7.8" fill="#fff"/>
<rect x="68.15" y="676.55" width="16.85" height="7.8" fill="#fff"/>
<rect x="111.9" y="630.55" width="12.85" height="7.8" fill="#fff"/>
<rect x="149.4" y="694.05" width="17.1" height="7.8" fill="#fff"/>
<rect x="190.65" y="700.05" width="16.85" height="7.8" fill="#fff"/>
<rect x="233.9" y="630.05" width="13.1" height="7.8" fill="#fff"/>
<rect x="274.65" y="641.3" width="13.1" height="7.8" fill="#fff"/>
<rect x="312.9" y="570.55" width="17.1" height="7.8" fill="#fff"/>
<rect x="354.15" y="594.8" width="17.1" height="7.8" fill="#fff"/>
<rect x="396.65" y="656.8" width="12.85" height="7.8" fill="#fff"/>
<rect x="43.15" y="599.8" width="16.85" height="7.8" fill="#fff"/>
<rect x="83.9" y="608.55" width="17.1" height="7.8" fill="#fff"/>
<rect x="123.9" y="607.3" width="17.1" height="7.8" fill="#fff"/>
<rect x="165.4" y="578.8" width="17.1" height="7.8" fill="#fff"/>
<rect x="208.15" y="753.05" width="16.85" height="7.8" fill="#fff"/>
<rect x="246.9" y="611.05" width="16.85" height="7.8" fill="#fff"/>
<rect x="290.15" y="647.55" width="13.1" height="7.8" fill="#fff"/>
<rect x="330.15" y="670.05" width="17.1" height="7.8" fill="#fff"/>
<rect x="371.4" y="623.55" width="16.6" height="7.8" fill="#fff"/>
<rect x="411.4" y="633.8" width="13.1" height="7.8" fill="#fff"/>
<rect x="44.45" y="613.7" width="15.25" height="181.7" fill="none" stroke="#000" stroke-width="0.9"/>
<rect x="85.2" y="621.95" width="15.25" height="173.45" fill="none" stroke="#000" stroke-width="0.9"/>
<rect x="125.95" y="621.2" width="15.25" height="174.2" fill="none" stroke="#000" stroke-width="0.9"/>
<rect x="166.7" y="593.2" width="15.25" height="202.2" fill="none" stroke="#000" stroke-width="0.9"/>
<rect x="207.45" y="766.2" width="15.25" height="29.2" fill="none" stroke="#000" stroke-width="0.9"/>
<rect x="248.2" y="624.2" width="15.25" height="171.2" fill="none" stroke="#000" stroke-width="0.9"/>
<rect x="288.95" y="658.95" width="15.25" height="136.45" fill="none" stroke="#000" stroke-width="0.9"/>
<rect x="329.7" y="683.2" width="15.25" height="112.2" fill="none" stroke="#000" stroke-width="0.9"/>
<rect x="370.45" y="636.95" width="15.25" height="158.45" fill="none" stroke="#000" stroke-width="0.9"/>
<rect x="411.2" y="646.95" width="15.25" height="148.45" fill="none" stroke="#000" stroke-width="0.9"/>
<text x="28.1" y="711.49" font-size="6.25" font-weight="700" fill="#000" stroke="#000" stroke-width="0.35" textLength="16.3" lengthAdjust="spacingAndGlyphs">&lt;0.01</text>
<text x="68.6" y="682.99" font-size="6.25" font-weight="700" fill="#000" stroke="#000" stroke-width="0.35" textLength="16.05" lengthAdjust="spacingAndGlyphs">&lt;0.01</text>
<text x="112.35" y="636.99" font-size="6.25" font-weight="700" fill="#000" stroke="#000" stroke-width="0.35" textLength="12.05" lengthAdjust="spacingAndGlyphs">0.05</text>
<text x="149.85" y="700.49" font-size="6.25" font-weight="700" fill="#000" stroke="#000" stroke-width="0.35" textLength="16.3" lengthAdjust="spacingAndGlyphs">&lt;0.01</text>
<text x="191.1" y="706.49" font-size="6.25" font-weight="700" fill="#000" stroke="#000" stroke-width="0.35" textLength="16.05" lengthAdjust="spacingAndGlyphs">&lt;0.01</text>
<text x="234.35" y="636.49" font-size="6.25" font-weight="700" fill="#000" stroke="#000" stroke-width="0.35" textLength="12.3" lengthAdjust="spacingAndGlyphs">0.04</text>
<text x="275.1" y="647.74" font-size="6.25" font-weight="700" fill="#000" stroke="#000" stroke-width="0.35" textLength="12.3" lengthAdjust="spacingAndGlyphs">0.97</text>
<text x="313.35" y="576.99" font-size="6.25" font-weight="700" fill="#000" stroke="#000" stroke-width="0.35" textLength="16.3" lengthAdjust="spacingAndGlyphs">&lt;0.01</text>
<text x="354.6" y="601.24" font-size="6.25" font-weight="700" fill="#000" stroke="#000" stroke-width="0.35" textLength="16.3" lengthAdjust="spacingAndGlyphs">&lt;0.01</text>
<text x="397.1" y="663.24" font-size="6.25" font-weight="700" fill="#000" stroke="#000" stroke-width="0.35" textLength="12.05" lengthAdjust="spacingAndGlyphs">0.11</text>
<text x="43.6" y="606.24" font-size="6.25" font-weight="700" fill="#000" stroke="#000" stroke-width="0.35" textLength="16.05" lengthAdjust="spacingAndGlyphs">&lt;0.01</text>
<text x="84.35" y="614.99" font-size="6.25" font-weight="700" fill="#000" stroke="#000" stroke-width="0.35" textLength="16.3" lengthAdjust="spacingAndGlyphs">&lt;0.01</text>
<text x="124.35" y="613.74" font-size="6.25" font-weight="700" fill="#000" stroke="#000" stroke-width="0.35" textLength="16.3" lengthAdjust="spacingAndGlyphs">&lt;0.01</text>
<text x="165.85" y="585.24" font-size="6.25" font-weight="700" fill="#000" stroke="#000" stroke-width="0.35" textLength="16.3" lengthAdjust="spacingAndGlyphs">&lt;0.01</text>
<text x="208.6" y="759.49" font-size="6.25" font-weight="700" fill="#000" stroke="#000" stroke-width="0.35" textLength="16.05" lengthAdjust="spacingAndGlyphs">&lt;0.01</text>
<text x="247.35" y="617.49" font-size="6.25" font-weight="700" fill="#000" stroke="#000" stroke-width="0.35" textLength="16.05" lengthAdjust="spacingAndGlyphs">&lt;0.01</text>
<text x="290.6" y="653.99" font-size="6.25" font-weight="700" fill="#000" stroke="#000" stroke-width="0.35" textLength="12.3" lengthAdjust="spacingAndGlyphs">0.76</text>
<text x="330.6" y="676.49" font-size="6.25" font-weight="700" fill="#000" stroke="#000" stroke-width="0.35" textLength="16.3" lengthAdjust="spacingAndGlyphs">&lt;0.01</text>
<text x="371.85" y="629.99" font-size="6.25" font-weight="700" fill="#000" stroke="#000" stroke-width="0.35" textLength="15.8" lengthAdjust="spacingAndGlyphs">&lt;0.01</text>
<text x="411.85" y="640.24" font-size="6.25" font-weight="700" fill="#000" stroke="#000" stroke-width="0.35" textLength="12.3" lengthAdjust="spacingAndGlyphs">0.22</text>
<text x="434.35" y="658.49" font-size="6.25" font-weight="700" fill="#000" stroke="#000" stroke-width="0.35" textLength="12.05" lengthAdjust="spacingAndGlyphs">0.19</text>
<text x="4.25" y="577.29" font-size="6.4" font-weight="700" fill="#000" stroke="#000" stroke-width="0.16" textLength="13.8" lengthAdjust="spacingAndGlyphs">0.30</text>
<text x="4.25" y="614" font-size="6.4" font-weight="700" fill="#000" stroke="#000" stroke-width="0.16" textLength="13.8" lengthAdjust="spacingAndGlyphs">0.25</text>
<text x="4.25" y="650.71" font-size="6.4" font-weight="700" fill="#000" stroke="#000" stroke-width="0.16" textLength="13.8" lengthAdjust="spacingAndGlyphs">0.20</text>
<text x="4.25" y="687.42" font-size="6.4" font-weight="700" fill="#000" stroke="#000" stroke-width="0.16" textLength="13.8" lengthAdjust="spacingAndGlyphs">0.15</text>
<text x="4.25" y="724.13" font-size="6.4" font-weight="700" fill="#000" stroke="#000" stroke-width="0.16" textLength="13.8" lengthAdjust="spacingAndGlyphs">0.10</text>
<text x="4.25" y="760.84" font-size="6.4" font-weight="700" fill="#000" stroke="#000" stroke-width="0.16" textLength="13.8" lengthAdjust="spacingAndGlyphs">0.05</text>
<text x="4.25" y="797.55" font-size="6.4" font-weight="700" fill="#000" stroke="#000" stroke-width="0.16" textLength="13.8" lengthAdjust="spacingAndGlyphs">0.00</text>
<text x="40.99" y="807.08" font-size="6.5" font-weight="700" fill="#000" stroke="#000" stroke-width="0.35" textLength="7.9" lengthAdjust="spacingAndGlyphs">A1</text>
<text x="81.74" y="807.08" font-size="6.5" font-weight="700" fill="#000" stroke="#000" stroke-width="0.35" textLength="7.9" lengthAdjust="spacingAndGlyphs">A2</text>
<text x="122.49" y="807.08" font-size="6.5" font-weight="700" fill="#000" stroke="#000" stroke-width="0.35" textLength="7.9" lengthAdjust="spacingAndGlyphs">A3</text>
<text x="163.24" y="807.08" font-size="6.5" font-weight="700" fill="#000" stroke="#000" stroke-width="0.35" textLength="7.9" lengthAdjust="spacingAndGlyphs">A4</text>
<text x="203.99" y="807.08" font-size="6.5" font-weight="700" fill="#000" stroke="#000" stroke-width="0.35" textLength="7.9" lengthAdjust="spacingAndGlyphs">A5</text>
<text x="244.74" y="807.08" font-size="6.5" font-weight="700" fill="#000" stroke="#000" stroke-width="0.35" textLength="7.9" lengthAdjust="spacingAndGlyphs">A6</text>
<text x="285.49" y="807.08" font-size="6.5" font-weight="700" fill="#000" stroke="#000" stroke-width="0.35" textLength="7.9" lengthAdjust="spacingAndGlyphs">A7</text>
<text x="326.24" y="807.08" font-size="6.5" font-weight="700" fill="#000" stroke="#000" stroke-width="0.35" textLength="7.9" lengthAdjust="spacingAndGlyphs">A8</text>
<text x="366.99" y="807.08" font-size="6.5" font-weight="700" fill="#000" stroke="#000" stroke-width="0.35" textLength="7.9" lengthAdjust="spacingAndGlyphs">A9</text>
<text x="406.04" y="807.08" font-size="6.5" font-weight="700" fill="#000" stroke="#000" stroke-width="0.35" textLength="11.3" lengthAdjust="spacingAndGlyphs">A10</text>
<rect x="384.1" y="574.6" width="54.9" height="27.15" fill="#fff"/>
<rect x="386.1" y="578.68" width="4.75" height="4.35" fill="#000"/>
<rect x="386.65" y="593.12" width="3.65" height="3.25" fill="#fff" stroke="#000" stroke-width="1.1"/>
<text x="392.25" y="582.68" font-size="5.8" font-weight="700" fill="#000" stroke="#000" stroke-width="0.28" textLength="44.9" lengthAdjust="spacingAndGlyphs">OSI (Near wall)</text>
<text x="392.25" y="596.58" font-size="5.8" font-weight="700" fill="#000" stroke="#000" stroke-width="0.28" textLength="39.65" lengthAdjust="spacingAndGlyphs">OSI (Far wall)</text>
<text x="21" y="563.7" font-size="14.66" font-weight="400" fill="#000" stroke="#000" stroke-width="0.6" stroke-linejoin="round" text-anchor="middle">C</text>
</g>
<g>
<line x1="26.45" y1="885" x2="432" y2="885" stroke="#f7f7f7" stroke-width="0.7"/>
<line x1="26.45" y1="923.5" x2="432" y2="923.5" stroke="#f7f7f7" stroke-width="0.7"/>
<line x1="26.45" y1="961.75" x2="432" y2="961.75" stroke="#f7f7f7" stroke-width="0.7"/>
<line x1="26.45" y1="1000" x2="432" y2="1000" stroke="#f7f7f7" stroke-width="0.7"/>
<line x1="26.45" y1="1038.25" x2="432" y2="1038.25" stroke="#f7f7f7" stroke-width="0.7"/>
<rect x="30.04" y="1057" width="14.71" height="19.6" fill="#000"/>
<rect x="44.45" y="965.45" width="15.25" height="111.15" fill="#fff"/>
<rect x="70.79" y="1057.75" width="14.71" height="18.85" fill="#000"/>
<rect x="85.2" y="977.45" width="15.25" height="99.15" fill="#fff"/>
<rect x="111.54" y="1047.5" width="14.71" height="29.1" fill="#000"/>
<rect x="125.95" y="864.7" width="15.25" height="211.9" fill="#fff"/>
<rect x="152.29" y="1045" width="14.71" height="31.6" fill="#000"/>
<rect x="166.7" y="878.95" width="15.25" height="197.65" fill="#fff"/>
<rect x="193.04" y="1039.25" width="14.71" height="37.35" fill="#000"/>
<rect x="207.45" y="1043.45" width="15.25" height="33.15" fill="#fff"/>
<rect x="233.79" y="1046.75" width="14.71" height="29.85" fill="#000"/>
<rect x="248.2" y="997.2" width="15.25" height="79.4" fill="#fff"/>
<rect x="274.54" y="1037" width="14.71" height="39.6" fill="#000"/>
<rect x="288.95" y="1018.45" width="15.25" height="58.15" fill="#fff"/>
<rect x="315.29" y="1000" width="14.71" height="76.6" fill="#000"/>
<rect x="329.7" y="1039.45" width="15.25" height="37.15" fill="#fff"/>
<rect x="356.04" y="980" width="14.71" height="96.6" fill="#000"/>
<rect x="370.45" y="955.95" width="15.25" height="120.65" fill="#fff"/>
<rect x="396.79" y="951.5" width="14.71" height="125.1" fill="#000"/>
<rect x="411.2" y="994.45" width="15.25" height="82.15" fill="#fff"/>
<line x1="37.5" y1="1023.75" x2="37.5" y2="1057.5" stroke="#000" stroke-width="0.75"/>
<line x1="36.7" y1="1023.75" x2="38.3" y2="1023.75" stroke="#000" stroke-width="0.6"/>
<line x1="52.5" y1="856.5" x2="52.5" y2="1076.5" stroke="#000" stroke-width="0.75"/>
<line x1="78.5" y1="1033" x2="78.5" y2="1058.25" stroke="#000" stroke-width="0.75"/>
<line x1="77.7" y1="1033" x2="79.3" y2="1033" stroke="#000" stroke-width="0.6"/>
<line x1="92.5" y1="856.5" x2="92.5" y2="1076.5" stroke="#000" stroke-width="0.75"/>
<line x1="118.5" y1="1004.5" x2="118.5" y2="1048" stroke="#000" stroke-width="0.75"/>
<line x1="117.7" y1="1004.5" x2="119.3" y2="1004.5" stroke="#000" stroke-width="0.6"/>
<line x1="133.5" y1="856.5" x2="133.5" y2="1076.5" stroke="#000" stroke-width="0.75"/>
<line x1="159.5" y1="1014.5" x2="159.5" y2="1045.5" stroke="#000" stroke-width="0.75"/>
<line x1="158.7" y1="1014.5" x2="160.3" y2="1014.5" stroke="#000" stroke-width="0.6"/>
<line x1="174.5" y1="856.5" x2="174.5" y2="1076.5" stroke="#000" stroke-width="0.75"/>
<line x1="200.5" y1="996.25" x2="200.5" y2="1039.75" stroke="#000" stroke-width="0.75"/>
<line x1="199.7" y1="996.25" x2="201.3" y2="996.25" stroke="#000" stroke-width="0.6"/>
<line x1="215.5" y1="1022.5" x2="215.5" y2="1063.5" stroke="#000" stroke-width="0.75"/>
<line x1="214.7" y1="1022.5" x2="216.3" y2="1022.5" stroke="#000" stroke-width="0.6"/>
<line x1="214.7" y1="1063.5" x2="216.3" y2="1063.5" stroke="#000" stroke-width="0.6"/>
<line x1="241.5" y1="1011.75" x2="241.5" y2="1047.25" stroke="#000" stroke-width="0.75"/>
<line x1="240.7" y1="1011.75" x2="242.3" y2="1011.75" stroke="#000" stroke-width="0.6"/>
<line x1="255.5" y1="858" x2="255.5" y2="1076.5" stroke="#000" stroke-width="0.75"/>
<line x1="254.7" y1="858" x2="256.3" y2="858" stroke="#000" stroke-width="0.6"/>
<line x1="281.5" y1="872" x2="281.5" y2="1037.5" stroke="#000" stroke-width="0.75"/>
<line x1="280.7" y1="872" x2="282.3" y2="872" stroke="#000" stroke-width="0.6"/>
<line x1="296.5" y1="885" x2="296.5" y2="1076.5" stroke="#000" stroke-width="0.75"/>
<line x1="295.7" y1="885" x2="297.3" y2="885" stroke="#000" stroke-width="0.6"/>
<line x1="322.5" y1="884.25" x2="322.5" y2="1000.5" stroke="#000" stroke-width="0.75"/>
<line x1="321.7" y1="884.25" x2="323.3" y2="884.25" stroke="#000" stroke-width="0.6"/>
<line x1="337.5" y1="998.5" x2="337.5" y2="1076.5" stroke="#000" stroke-width="0.75"/>
<line x1="336.7" y1="998.5" x2="338.3" y2="998.5" stroke="#000" stroke-width="0.6"/>
<line x1="363.5" y1="856.5" x2="363.5" y2="980.5" stroke="#000" stroke-width="0.75"/>
<line x1="378.5" y1="856.5" x2="378.5" y2="1076.5" stroke="#000" stroke-width="0.75"/>
<line x1="404.5" y1="856.5" x2="404.5" y2="952" stroke="#000" stroke-width="0.75"/>
<line x1="418.5" y1="856.5" x2="418.5" y2="1076.5" stroke="#000" stroke-width="0.75"/>
<line x1="24.81" y1="999.85" x2="433.2" y2="999.85" stroke="#000" stroke-width="1.12" stroke-dasharray="1.08 0.92"/>
<line x1="24.45" y1="855.9" x2="24.45" y2="1077.05" stroke="#000" stroke-width="0.9"/>
<line x1="24" y1="1076.6" x2="432" y2="1076.6" stroke="#000" stroke-width="0.9"/>
<rect x="27.65" y="1043.8" width="17.35" height="7.8" fill="#fff"/>
<rect x="68.4" y="1044.3" width="17.35" height="7.8" fill="#fff"/>
<rect x="109.4" y="1034.8" width="16.85" height="7.8" fill="#fff"/>
<rect x="149.9" y="1032.55" width="17.1" height="7.8" fill="#fff"/>
<rect x="190.9" y="1026.55" width="16.85" height="7.8" fill="#fff"/>
<rect x="231.4" y="1033.8" width="17.1" height="7.8" fill="#fff"/>
<rect x="272.15" y="1024.05" width="16.85" height="7.8" fill="#fff"/>
<rect x="315.65" y="986.55" width="13.1" height="7.8" fill="#fff"/>
<rect x="356.15" y="966.8" width="13.1" height="7.8" fill="#fff"/>
<rect x="396.9" y="937.05" width="12.85" height="7.8" fill="#fff"/>
<rect x="45.4" y="951.55" width="13.35" height="7.8" fill="#fff"/>
<rect x="86.15" y="964.05" width="13.35" height="7.8" fill="#fff"/>
<rect x="126.15" y="851.3" width="13.1" height="7.8" fill="#fff"/>
<rect x="165.4" y="865.55" width="17.1" height="7.8" fill="#fff"/>
<rect x="207.65" y="1029.3" width="17.1" height="7.8" fill="#fff"/>
<rect x="249.4" y="984.3" width="13.35" height="7.8" fill="#fff"/>
<rect x="289.9" y="1005.55" width="13.35" height="7.8" fill="#fff"/>
<rect x="330.4" y="1025.8" width="17.1" height="7.8" fill="#fff"/>
<rect x="371.4" y="943.05" width="13.35" height="7.8" fill="#fff"/>
<rect x="412.15" y="980.55" width="13.1" height="7.8" fill="#fff"/>
<rect x="44.45" y="965.45" width="15.25" height="111.15" fill="none" stroke="#000" stroke-width="0.9"/>
<rect x="85.2" y="977.45" width="15.25" height="99.15" fill="none" stroke="#000" stroke-width="0.9"/>
<rect x="125.95" y="864.7" width="15.25" height="211.9" fill="none" stroke="#000" stroke-width="0.9"/>
<rect x="166.7" y="878.95" width="15.25" height="197.65" fill="none" stroke="#000" stroke-width="0.9"/>
<rect x="207.45" y="1043.45" width="15.25" height="33.15" fill="none" stroke="#000" stroke-width="0.9"/>
<rect x="248.2" y="997.2" width="15.25" height="79.4" fill="none" stroke="#000" stroke-width="0.9"/>
<rect x="288.95" y="1018.45" width="15.25" height="58.15" fill="none" stroke="#000" stroke-width="0.9"/>
<rect x="329.7" y="1039.45" width="15.25" height="37.15" fill="none" stroke="#000" stroke-width="0.9"/>
<rect x="370.45" y="955.95" width="15.25" height="120.65" fill="none" stroke="#000" stroke-width="0.9"/>
<rect x="411.2" y="994.45" width="15.25" height="82.15" fill="none" stroke="#000" stroke-width="0.9"/>
<text x="28.1" y="1050.24" font-size="6.25" font-weight="700" fill="#000" stroke="#000" stroke-width="0.35" textLength="16.55" lengthAdjust="spacingAndGlyphs">&lt;0.01</text>
<text x="68.85" y="1050.74" font-size="6.25" font-weight="700" fill="#000" stroke="#000" stroke-width="0.35" textLength="16.55" lengthAdjust="spacingAndGlyphs">&lt;0.01</text>
<text x="109.85" y="1041.24" font-size="6.25" font-weight="700" fill="#000" stroke="#000" stroke-width="0.35" textLength="16.05" lengthAdjust="spacingAndGlyphs">&lt;0.01</text>
<text x="150.35" y="1038.99" font-size="6.25" font-weight="700" fill="#000" stroke="#000" stroke-width="0.35" textLength="16.3" lengthAdjust="spacingAndGlyphs">&lt;0.01</text>
<text x="191.35" y="1032.99" font-size="6.25" font-weight="700" fill="#000" stroke="#000" stroke-width="0.35" textLength="16.05" lengthAdjust="spacingAndGlyphs">&lt;0.01</text>
<text x="231.85" y="1040.24" font-size="6.25" font-weight="700" fill="#000" stroke="#000" stroke-width="0.35" textLength="16.3" lengthAdjust="spacingAndGlyphs">&lt;0.01</text>
<text x="272.6" y="1030.49" font-size="6.25" font-weight="700" fill="#000" stroke="#000" stroke-width="0.35" textLength="16.05" lengthAdjust="spacingAndGlyphs">&lt;0.01</text>
<text x="316.1" y="992.99" font-size="6.25" font-weight="700" fill="#000" stroke="#000" stroke-width="0.35" textLength="12.3" lengthAdjust="spacingAndGlyphs">0.98</text>
<text x="356.6" y="973.24" font-size="6.25" font-weight="700" fill="#000" stroke="#000" stroke-width="0.35" textLength="12.3" lengthAdjust="spacingAndGlyphs">0.17</text>
<text x="397.35" y="943.49" font-size="6.25" font-weight="700" fill="#000" stroke="#000" stroke-width="0.35" textLength="12.05" lengthAdjust="spacingAndGlyphs">0.11</text>
<text x="45.85" y="957.99" font-size="6.25" font-weight="700" fill="#000" stroke="#000" stroke-width="0.35" textLength="12.55" lengthAdjust="spacingAndGlyphs">0.11</text>
<text x="86.6" y="970.49" font-size="6.25" font-weight="700" fill="#000" stroke="#000" stroke-width="0.35" textLength="12.55" lengthAdjust="spacingAndGlyphs">0.23</text>
<text x="126.6" y="857.74" font-size="6.25" font-weight="700" fill="#000" stroke="#000" stroke-width="0.35" textLength="12.3" lengthAdjust="spacingAndGlyphs">0.01</text>
<text x="165.85" y="871.99" font-size="6.25" font-weight="700" fill="#000" stroke="#000" stroke-width="0.35" textLength="16.3" lengthAdjust="spacingAndGlyphs">&lt;0.01</text>
<text x="208.1" y="1035.74" font-size="6.25" font-weight="700" fill="#000" stroke="#000" stroke-width="0.35" textLength="16.3" lengthAdjust="spacingAndGlyphs">&lt;0.01</text>
<text x="249.85" y="990.74" font-size="6.25" font-weight="700" fill="#000" stroke="#000" stroke-width="0.35" textLength="12.55" lengthAdjust="spacingAndGlyphs">0.75</text>
<text x="290.35" y="1011.99" font-size="6.25" font-weight="700" fill="#000" stroke="#000" stroke-width="0.35" textLength="12.55" lengthAdjust="spacingAndGlyphs">0.04</text>
<text x="330.85" y="1032.24" font-size="6.25" font-weight="700" fill="#000" stroke="#000" stroke-width="0.35" textLength="16.3" lengthAdjust="spacingAndGlyphs">&lt;0.01</text>
<text x="371.85" y="949.49" font-size="6.25" font-weight="700" fill="#000" stroke="#000" stroke-width="0.35" textLength="12.55" lengthAdjust="spacingAndGlyphs">0.20</text>
<text x="412.6" y="986.99" font-size="6.25" font-weight="700" fill="#000" stroke="#000" stroke-width="0.35" textLength="12.3" lengthAdjust="spacingAndGlyphs">0.59</text>
<text x="434.35" y="1002.49" font-size="6.25" font-weight="700" fill="#000" stroke="#000" stroke-width="0.35" textLength="12.05" lengthAdjust="spacingAndGlyphs">8.05</text>
<text x="0.45" y="887.29" font-size="6.4" font-weight="700" fill="#000" stroke="#000" stroke-width="0.16" textLength="17.6" lengthAdjust="spacingAndGlyphs">20.00</text>
<text x="0.45" y="925.79" font-size="6.4" font-weight="700" fill="#000" stroke="#000" stroke-width="0.16" textLength="17.6" lengthAdjust="spacingAndGlyphs">16.00</text>
<text x="0.45" y="964.04" font-size="6.4" font-weight="700" fill="#000" stroke="#000" stroke-width="0.16" textLength="17.6" lengthAdjust="spacingAndGlyphs">12.00</text>
<text x="4.25" y="1002.29" font-size="6.4" font-weight="700" fill="#000" stroke="#000" stroke-width="0.16" textLength="13.8" lengthAdjust="spacingAndGlyphs">8.00</text>
<text x="4.25" y="1040.54" font-size="6.4" font-weight="700" fill="#000" stroke="#000" stroke-width="0.16" textLength="13.8" lengthAdjust="spacingAndGlyphs">4.00</text>
<text x="4.25" y="1078.79" font-size="6.4" font-weight="700" fill="#000" stroke="#000" stroke-width="0.16" textLength="13.8" lengthAdjust="spacingAndGlyphs">0.00</text>
<text x="40.99" y="1088.58" font-size="6.5" font-weight="700" fill="#000" stroke="#000" stroke-width="0.35" textLength="7.9" lengthAdjust="spacingAndGlyphs">A1</text>
<text x="81.74" y="1088.58" font-size="6.5" font-weight="700" fill="#000" stroke="#000" stroke-width="0.35" textLength="7.9" lengthAdjust="spacingAndGlyphs">A2</text>
<text x="122.49" y="1088.58" font-size="6.5" font-weight="700" fill="#000" stroke="#000" stroke-width="0.35" textLength="7.9" lengthAdjust="spacingAndGlyphs">A3</text>
<text x="163.24" y="1088.58" font-size="6.5" font-weight="700" fill="#000" stroke="#000" stroke-width="0.35" textLength="7.9" lengthAdjust="spacingAndGlyphs">A4</text>
<text x="203.99" y="1088.58" font-size="6.5" font-weight="700" fill="#000" stroke="#000" stroke-width="0.35" textLength="7.9" lengthAdjust="spacingAndGlyphs">A5</text>
<text x="244.74" y="1088.58" font-size="6.5" font-weight="700" fill="#000" stroke="#000" stroke-width="0.35" textLength="7.9" lengthAdjust="spacingAndGlyphs">A6</text>
<text x="285.49" y="1088.58" font-size="6.5" font-weight="700" fill="#000" stroke="#000" stroke-width="0.35" textLength="7.9" lengthAdjust="spacingAndGlyphs">A7</text>
<text x="326.24" y="1088.58" font-size="6.5" font-weight="700" fill="#000" stroke="#000" stroke-width="0.35" textLength="7.9" lengthAdjust="spacingAndGlyphs">A8</text>
<text x="366.99" y="1088.58" font-size="6.5" font-weight="700" fill="#000" stroke="#000" stroke-width="0.35" textLength="7.9" lengthAdjust="spacingAndGlyphs">A9</text>
<text x="406.04" y="1088.58" font-size="6.5" font-weight="700" fill="#000" stroke="#000" stroke-width="0.35" textLength="11.3" lengthAdjust="spacingAndGlyphs">A10</text>
<rect x="386.2" y="856.5" width="56.3" height="27" fill="#fff"/>
<rect x="388.2" y="860.58" width="4.75" height="4.35" fill="#000"/>
<rect x="388.75" y="874.88" width="3.65" height="3.25" fill="#fff" stroke="#000" stroke-width="1.1"/>
<text x="394.35" y="864.58" font-size="5.8" font-weight="700" fill="#000" stroke="#000" stroke-width="0.28" textLength="46.3" lengthAdjust="spacingAndGlyphs">RRT (Near wall)</text>
<text x="394.35" y="878.33" font-size="5.8" font-weight="700" fill="#000" stroke="#000" stroke-width="0.28" textLength="41.55" lengthAdjust="spacingAndGlyphs">RRT (Far wall)</text>
<text x="21.3" y="846.2" font-size="14.53" font-weight="700" fill="#000" stroke="#000" stroke-width="0.05" stroke-linejoin="round" text-anchor="middle">D</text>
</g>
</svg>
</body></html>
